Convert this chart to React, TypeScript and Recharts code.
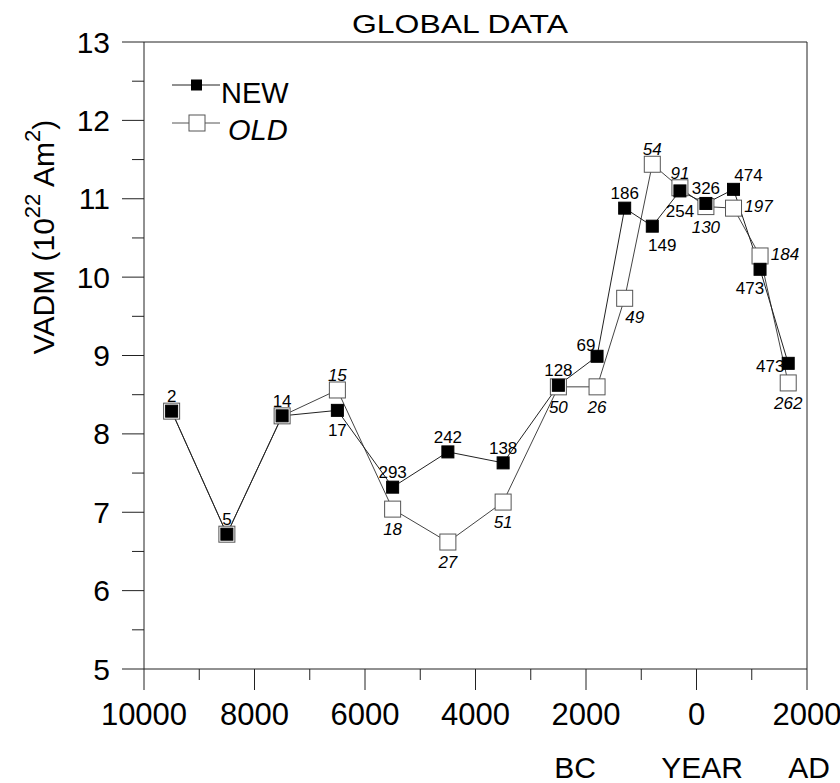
import { LineChart, Line, XAxis, YAxis, ReferenceLine, Legend, Customized } from 'recharts';

// years: negative = BC, positive = AD
const years = [-9500, -8500, -7500, -6500, -5500, -4500, -3500, -2500, -1800, -1300, -800, -300, 170, 670, 1150, 1660];
const newVadm = [8.29, 6.72, 8.23, 8.3, 7.32, 7.77, 7.63, 8.62, 8.99, 10.88, 10.65, 11.1, 10.94, 11.12, 10.1, 8.9];
const oldVadm = [8.29, 6.72, 8.23, 8.56, 7.04, 6.62, 7.13, 8.6, 8.6, 9.73, 11.44, 11.14, 10.9, 10.88, 10.27, 8.65];
const newCounts = [2, 5, 14, 17, 293, 242, 138, 128, 69, 186, 149, 254, 326, 474, 473, 473];
const oldCounts = [null, null, null, 15, 18, 27, 51, 50, 26, 49, 54, 91, 130, 197, 184, 262];

const xTicks = [-10000, -9000, -8000, -7000, -6000, -5000, -4000, -3000, -2000, -1000, 0, 1000, 2000];
const yTicks = [5, 5.5, 6, 6.5, 7, 7.5, 8, 8.5, 9, 9.5, 10, 10.5, 11, 11.5, 12, 12.5, 13];

// where each count label sits around its marker
const newSpots = ['N', 'N', 'N', 'S', 'N', 'N', 'N', 'N', 'NW', 'N', 'SE', 'S', 'N', 'NE', 'SW', 'W'];
const oldSpots = ['', '', '', 'N', 'S', 'S', 'S', 'S', 'S', 'SE', 'N', 'N', 'S', 'E', 'E', 'S'];

const SPOT: Record<string, [number, number]> = {
  N: [0, -15],
  S: [0, 20],
  NE: [15, -14],
  NW: [-11, -11],
  SE: [10, 19],
  SW: [-10, 19],
  E: [25, -2],
  W: [-18, 3],
};

const FONT = '"Liberation Sans", Arial, sans-serif';
const INK = '#222';

const rows = years.map((year, i) => ({ year, newV: newVadm[i], oldV: oldVadm[i] }));

function XTick(props: any) {
  const { x, y, payload } = props;
  const v = payload.value as number;
  const major = v % 2000 === 0;
  return (
    <g>
      <line x1={x} x2={x} y1={y} y2={y + (major ? 21 : 11)} stroke={INK} strokeWidth={1} />
      {major && (
        <text x={x} y={y + 56} textAnchor="middle" fontSize={31} fontFamily={FONT} fill="#000">
          {Math.abs(v)}
        </text>
      )}
    </g>
  );
}

function YTick(props: any) {
  const { x, y, payload } = props;
  const v = payload.value as number;
  const major = Number.isInteger(v);
  return (
    <g>
      <line x1={x - (major ? 22 : 12)} x2={x} y1={y} y2={y} stroke={INK} strokeWidth={1} />
      {major && (
        <text x={x - 34} y={y + 10.5} textAnchor="end" fontSize={30} fontFamily={FONT} fill="#000">
          {v}
        </text>
      )}
    </g>
  );
}

function makeDot(filled: boolean, counts: (number | null)[], spots: string[]) {
  return (props: any) => {
    const { cx, cy, index } = props;
    const s = filled ? 12 : 16;
    const n = counts[index];
    const off = SPOT[spots[index]];
    return (
      <g key={`${filled ? 'n' : 'o'}-${index}`}>
        <rect
          x={cx - s / 2}
          y={cy - s / 2}
          width={s}
          height={s}
          fill={filled ? '#000' : '#fff'}
          stroke={filled ? '#000' : '#555'}
          strokeWidth={1}
        />
        {n != null && off && (
          <text
            x={cx + off[0]}
            y={cy + off[1] + 6}
            textAnchor="middle"
            fontSize={17}
            fontStyle={filled ? 'normal' : 'italic'}
            fontFamily={FONT}
            fill="#000"
          >
            {n}
          </text>
        )}
      </g>
    );
  };
}

function LegendBox() {
  return (
    <svg width={150} height={100}>
      <line x1={12} x2={60} y1={25} y2={25} stroke={INK} strokeWidth={1} />
      <rect x={31} y={19.5} width={11} height={11} fill="#000" />
      <text x={61} y={43} fontSize={29} fontFamily={FONT} fill="#000">NEW</text>
      <line x1={12} x2={60} y1={63} y2={63} stroke="#555" strokeWidth={1} />
      <rect x={29} y={55} width={16} height={16} fill="#fff" stroke="#555" strokeWidth={1} />
      <text x={68} y={80} fontSize={29} fontStyle="italic" fontFamily={FONT} fill="#000">OLD</text>
    </svg>
  );
}

function Annotations() {
  return (
    <g fontFamily={FONT} fill="#000">
      <text x={352} y={33} fontSize={26} textLength={216} lengthAdjust="spacingAndGlyphs">
        GLOBAL DATA
      </text>
      <text transform="translate(54, 237) rotate(-90)" textAnchor="middle" fontSize={30}>
        VADM (10
        <tspan dy={-14} fontSize={22}>22</tspan>
        <tspan dy={14}> Am</tspan>
        <tspan dy={-14} fontSize={22}>2</tspan>
        <tspan dy={14}>)</tspan>
      </text>
      <text x={575} y={778} textAnchor="middle" fontSize={30}>BC</text>
      <text x={702} y={778} textAnchor="middle" fontSize={30}>YEAR</text>
      <text x={809} y={778} textAnchor="middle" fontSize={30}>AD</text>
    </g>
  );
}

export default function App() {
  return (
    <div style={{ position: 'absolute', left: 0, top: 0, width: 840, height: 783, background: '#fff' }}>
      <LineChart width={840} height={783} data={rows} margin={{ top: 42, right: 33, bottom: 54, left: 44 }}>
        <XAxis
          dataKey="year"
          type="number"
          domain={[-10000, 2000]}
          ticks={xTicks}
          interval={0}
          height={60}
          tickSize={0}
          tickMargin={0}
          tickLine={false}
          tick={XTick}
          axisLine={{ stroke: INK, strokeWidth: 1 }}
        />
        <YAxis
          type="number"
          domain={[5, 13]}
          ticks={yTicks}
          interval={0}
          width={100}
          tickSize={0}
          tickMargin={0}
          tickLine={false}
          tick={YTick}
          axisLine={{ stroke: INK, strokeWidth: 1 }}
        />
        <ReferenceLine y={13} stroke={INK} strokeWidth={1} />
        <ReferenceLine x={2000} stroke={INK} strokeWidth={1} />
        <Line
          dataKey="oldV"
          name="OLD"
          stroke="#444"
          strokeWidth={1}
          dot={makeDot(false, oldCounts, oldSpots)}
          activeDot={false}
          isAnimationActive={false}
        />
        <Line
          dataKey="newV"
          name="NEW"
          stroke="#222"
          strokeWidth={1}
          dot={makeDot(true, newCounts, newSpots)}
          activeDot={false}
          isAnimationActive={false}
        />
        <Legend
          layout="horizontal"
          verticalAlign="middle"
          align="center"
          content={LegendBox}
          wrapperStyle={{ left: 160, top: 60, width: 150, height: 100 }}
        />
        <Customized component={Annotations} />
      </LineChart>
    </div>
  );
}
